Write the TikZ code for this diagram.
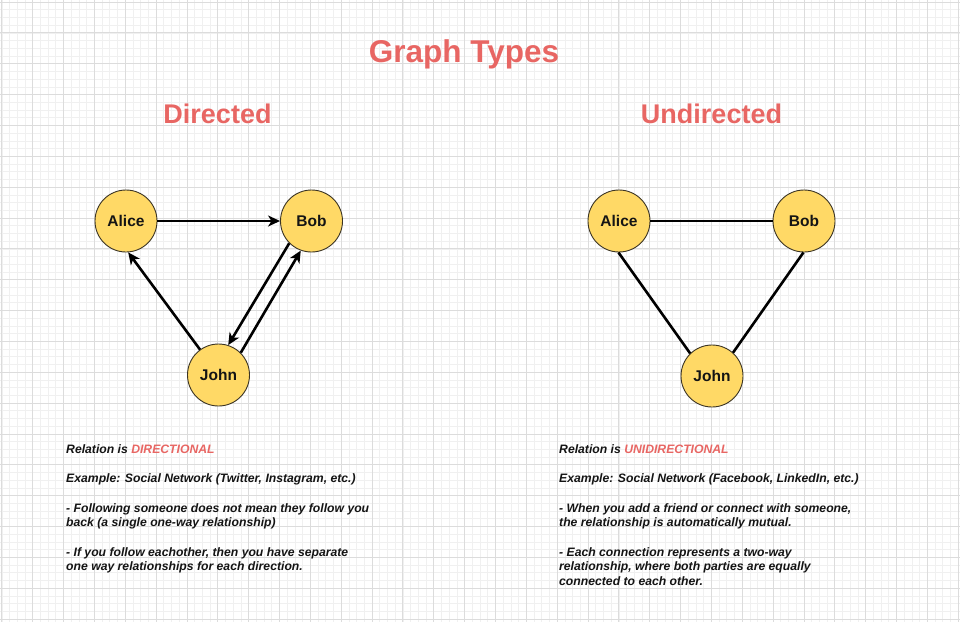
\documentclass[tikz,border=0pt]{standalone}
\usepackage{fontspec}
\setmainfont{Liberation Sans}
\usetikzlibrary{arrows.meta}
\definecolor{dred}{HTML}{E86663}
\definecolor{nfill}{HTML}{FFD966}
\definecolor{nstroke}{HTML}{3B3424}
\definecolor{txt}{HTML}{141414}
\definecolor{gminor}{HTML}{F0F0F0}
\definecolor{gmajor}{HTML}{DCDCDC}
\begin{document}
\begin{tikzpicture}[x=1pt,y=-1pt,
  person/.style={circle,draw=nstroke,fill=nfill,line width=0.9pt,minimum size=62pt,inner sep=0pt,
    font=\fontsize{15.5}{18}\selectfont\bfseries,text=txt},
  edge/.style={line width=2.6pt,draw=black},
  arr/.style={edge,-{Stealth[length=12pt,width=11pt,inset=3.5pt]}},
  heading/.style={font=\fontsize{27}{32}\selectfont\bfseries,text=dred,anchor=base,inner sep=0pt},
  bigtitle/.style={font=\fontsize{31.5}{36}\selectfont\bfseries,text=dred,anchor=base,inner sep=0pt},
  note/.style={font=\fontsize{12.2}{14.7}\selectfont\bfseries\itshape,text=txt,align=left,anchor=north west,inner sep=0pt}]
\useasboundingbox (0,0) rectangle (960,622);
\fill[white] (0,0) rectangle (960,622);
% grid
\foreach \i in {0,...,124}{
  \pgfmathsetmacro\xx{1.8+\i*7.7125}
  \draw[gminor,line width=0.6pt] (\xx,0) -- (\xx,622);
}
\foreach \i in {0,...,80}{
  \pgfmathsetmacro\yy{2+\i*7.7125}
  \draw[gminor,line width=0.6pt] (0,\yy) -- (960,\yy);
}
\foreach \i in {0,...,31}{
  \pgfmathsetmacro\xx{1.8+\i*30.85}
  \draw[gmajor,line width=0.8pt] (\xx,0) -- (\xx,622);
}
\foreach \i in {0,...,20}{
  \pgfmathsetmacro\yy{2+\i*30.85}
  \draw[gmajor,line width=0.8pt] (0,\yy) -- (960,\yy);
}
% titles
\node[bigtitle] (title) at (464,62.7) {Graph Types};
\node[heading] (hdir) at (217.5,123.3) {Directed};
\node[heading] (hund) at (711.5,123.3) {Undirected};
% directed graph
\node[person] (alice) at (126,221) {Alice};
\node[person] (bob) at (311.5,221) {Bob};
\node[person] (john) at (218.5,375) {John};
\draw[arr] (alice.east) -- (bob.west);
\draw[arr] (john.126.5) -- (alice.-86.5);
\draw[arr] (bob.225) -- (john.72.6);
\draw[arr] (john.45) -- (bob.250.6);
% undirected graph
\node[person] (alice2) at (619,221) {Alice};
\node[person] (bob2) at (804,221) {Bob};
\node[person] (john2) at (712,376) {John};
\draw[edge] (alice2.east) -- (bob2.west);
\draw[edge] (alice2.-91) -- (john2.134);
\draw[edge] (bob2.-91) -- (john2.48);
% notes
\node[note] (ndir) at (66,444.2) {Relation is {\color{dred}DIRECTIONAL}\\[14.7pt]
Example: Social Network (Twitter, Instagram, etc.)\\[14.7pt]
- Following someone does not mean they follow you\\
back (a single one-way relationship)\\[14.7pt]
- If you follow eachother, then you have separate\\
one way relationships for each direction.};
\node[note] (nund) at (559,444.2) {Relation is {\color{dred}UNIDIRECTIONAL}\\[14.7pt]
Example: Social Network (Facebook, LinkedIn, etc.)\\[14.7pt]
- When you add a friend or connect with someone,\\
the relationship is automatically mutual.\\[14.7pt]
- Each connection represents a two-way\\
relationship, where both parties are equally\\
connected to each other.};
\end{tikzpicture}
\end{document}
